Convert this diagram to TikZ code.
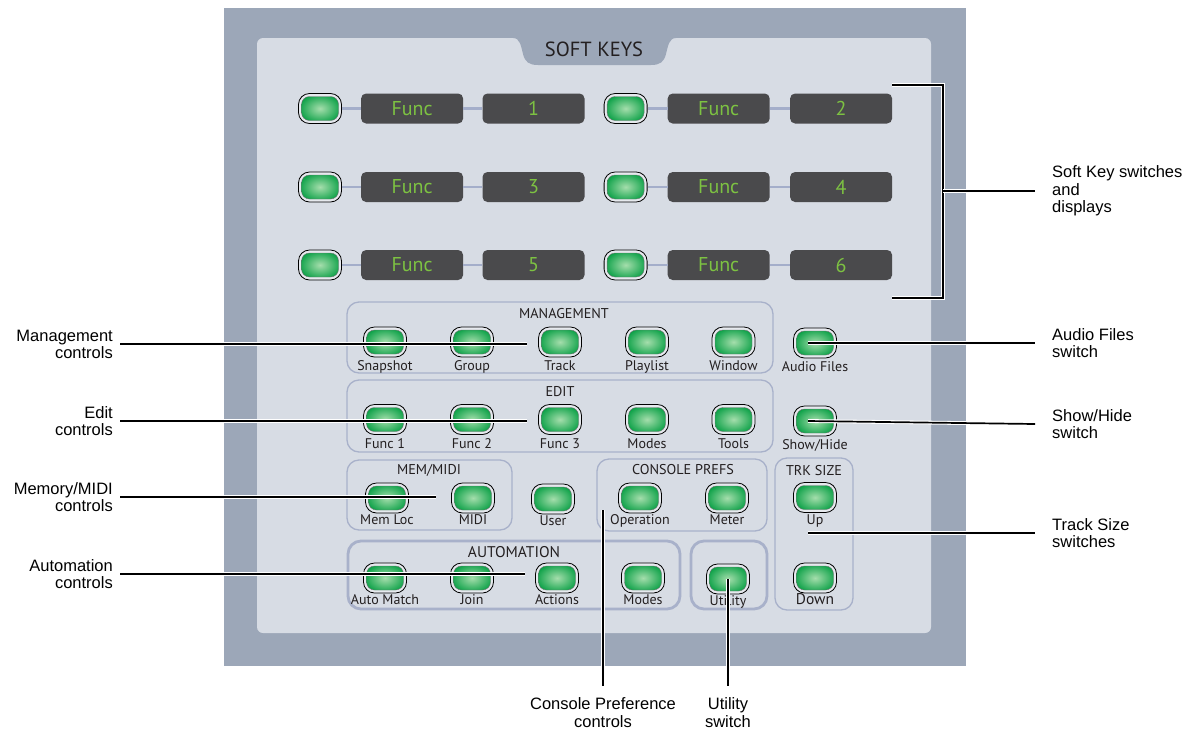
\documentclass[tikz,border=0pt]{standalone}
\usepackage{fontspec}
\usetikzlibrary{positioning, calc}
\newfontfamily\panelfont{PT Sans}
\newfontfamily\notefont{Liberation Sans}
\definecolor{framegray}{RGB}{156,167,184}
\definecolor{panelgray}{RGB}{215,220,228}
\definecolor{dispgray}{RGB}{74,74,76}
\definecolor{funcgreen}{RGB}{125,194,66}
\definecolor{linkblue}{RGB}{164,174,202}
\definecolor{grpline}{RGB}{168,177,202}
\definecolor{ringfill}{RGB}{230,233,238}
\definecolor{btnlight}{RGB}{165,222,172}
\definecolor{btndark}{RGB}{10,160,70}
\definecolor{labeltxt}{RGB}{35,31,32}

\begin{document}
\begin{tikzpicture}[x=1pt, y=-1pt,
      btn/.style={draw=black, line width=0.8pt, fill=ringfill, rounded corners=11pt,
                  minimum width=43pt, minimum height=30pt, inner sep=0pt,
                  path picture={\shadedraw[inner color=btnlight, outer color=btndark, draw=black!55,
                    line width=0.4pt, rounded corners=8pt]
                    ([shift={(3pt,3pt)}]path picture bounding box.south west) rectangle
                    ([shift={(-3pt,-3pt)}]path picture bounding box.north east);}},
      disp/.style={rectangle, fill=dispgray, rounded corners=5pt, minimum width=102pt,
                  minimum height=30pt, inner sep=0pt, text=funcgreen,
                  font=\panelfont\fontsize{20}{20}\selectfont},
      lbl/.style={font=\panelfont\fontsize{14}{14}\selectfont, text=labeltxt, anchor=base,
                  inner sep=0pt, yshift=-13.5pt},
      lowlbl/.style={lbl, yshift=2pt},
      grptitle/.style={font=\panelfont\fontsize{14.2}{14}\selectfont, text=labeltxt, inner sep=0pt},
      grp/.style={draw=grpline, line width=1.3pt, rounded corners=12pt},
      grpthick/.style={draw=grpline, line width=2.8pt, rounded corners=13pt},
      link/.style={draw=linkblue, line width=2.6pt},
      notel/.style={font=\notefont\fontsize{16.5}{17}\selectfont, align=right, anchor=east,
                  inner xsep=7pt, inner ysep=0pt},
      noter/.style={font=\notefont\fontsize{16.5}{17.5}\selectfont, align=left, anchor=west,
                  inner xsep=17pt, inner ysep=0pt},
      noteb/.style={font=\notefont\fontsize{16.5}{17.5}\selectfont, align=center, anchor=north,
                  inner sep=0pt},
      lead/.style={draw=black, line width=1.7pt, preaction={draw=white, line width=3.8pt}}]
    \useasboundingbox (0,0) rectangle (1192,729);
    \fill[white] (0,0) rectangle (1192,729);
    % console frame and soft keys tab
    \fill[framegray] (224,8) rectangle (966,666);
    \fill[panelgray, rounded corners=6pt] (257,38) rectangle (931,633);
    \fill[framegray] (513,38) .. controls (520,38) and (521,46) .. (523,54)
      .. controls (525,62) and (529,65) .. (538,65) -- (651,65)
      .. controls (660,65) and (664,62) .. (666,54)
      .. controls (668,46) and (669,38) .. (676,38) -- cycle;
    \node[grptitle, font=\panelfont\fontsize{20.5}{20}\selectfont] (sktitle) at (594,49.5) {SOFT KEYS};

    % soft key rows
    \node[btn] (swa) at (320,108.5) {};
    \node[disp, right=19pt of swa] (fna) {Func};
    \node[disp, right=19pt of fna] (nma) {1};
    \node[btn, right=19pt of nma] (swb) {};
    \node[disp, right=20pt of swb] (fnb) {Func};
    \node[disp, right=20pt of fnb] (nmb) {2};
    \node[btn] (swc) at (320,187) {};
    \node[disp, right=19pt of swc] (fnc) {Func};
    \node[disp, right=19pt of fnc] (nmc) {3};
    \node[btn, right=19pt of nmc] (swd) {};
    \node[disp, right=20pt of swd] (fnd) {Func};
    \node[disp, right=20pt of fnd] (nmd) {4};
    \node[btn] (swe) at (320,265) {};
    \node[disp, right=19pt of swe] (fne) {Func};
    \node[disp, right=19pt of fne] (nme) {5};
    \node[btn, right=19pt of nme] (swf) {};
    \node[disp, right=20pt of swf] (fnf) {Func};
    \node[disp, right=20pt of fnf] (nmf) {6};
    \draw[link] (swa) -- (fna);  \draw[link] (fna) -- (nma);
    \draw[link] (swb) -- (fnb);  \draw[link] (fnb) -- (nmb);
    \draw[link] (swc) -- (fnc);  \draw[link] (fnc) -- (nmc);
    \draw[link] (swd) -- (fnd);  \draw[link] (fnd) -- (nmd);
    \draw[link] (swe) -- (fne);  \draw[link] (fne) -- (nme);
    \draw[link] (swf) -- (fnf);  \draw[link] (fnf) -- (nmf);

    % groups
    \draw[grp] (347,302) rectangle (773,373);
    \draw[grp] (347,380) rectangle (773,452);
    \draw[grp] (347,460) rectangle (512,530);
    \draw[grp] (597,459) rectangle (767,531);
    \draw[grp] (775,458) rectangle (853,610);
    \draw[grpthick] (348,541) rectangle (680,609);
    \draw[grpthick] (691,541) rectangle (767,609);
    \node[grptitle] (mgmttitle) at (564,313.5) {MANAGEMENT};
    \node[grptitle] (edittitle) at (560,392) {EDIT};
    \node[grptitle] (memtitle) at (429,470) {MEM/MIDI};
    \node[grptitle] (cptitle) at (683,470) {CONSOLE PREFS};
    \node[grptitle] (trktitle) at (814,471) {TRK SIZE};
    \node[grptitle, font=\panelfont\fontsize{15.5}{15}\selectfont] (autotitle) at (514,552) {AUTOMATION};

    % switches
    \node[btn, label={[lbl]below:Snapshot}] (snap) at (385,342) {};
    \node[btn, label={[lbl]below:Group}] (group) at (472,342) {};
    \node[btn, label={[lbl]below:Track}] (track) at (560,342) {};
    \node[btn, label={[lbl]below:Playlist}] (playlist) at (647,342) {};
    \node[btn, label={[lbl]below:Window}] (window) at (733.5,342) {};
    \node[btn, label={[lbl]below:Audio Files}] (audio) at (815,343) {};
    \node[btn, label={[lbl]below:Func 1}] (funca) at (385,419.5) {};
    \node[btn, label={[lbl]below:Func 2}] (funcb) at (472,419.5) {};
    \node[btn, label={[lbl]below:Func 3}] (funcc) at (560,419.5) {};
    \node[btn, label={[lbl]below:Modes}] (emodes) at (647,419.5) {};
    \node[btn, label={[lbl]below:Tools}] (tools) at (733.5,419.5) {};
    \node[btn, label={[lbl]below:Show/Hide}] (showhide) at (815,421) {};
    \node[btn, label={[lowlbl]below:Mem Loc}] (memloc) at (387,498) {};
    \node[btn, label={[lowlbl]below:MIDI}] (midi) at (473,498) {};
    \node[btn, label={[lowlbl]below:User}] (user) at (553,499) {};
    \node[btn, label={[lowlbl]below:Operation}] (operation) at (640,498) {};
    \node[btn, label={[lowlbl]below:Meter}] (meter) at (727,498) {};
    \node[btn, label={[lowlbl]below:Up}] (trkup) at (815,497.5) {};
    \node[btn, label={[lowlbl]below:Auto Match}] (automatch) at (385,578) {};
    \node[btn, label={[lowlbl]below:Join}] (join) at (472,578) {};
    \node[btn, label={[lowlbl]below:Actions}] (actions) at (557,578) {};
    \node[btn, label={[lowlbl]below:Modes}] (amodes) at (643,578) {};
    \node[btn, label={[lowlbl]below:Utility}] (utility) at (728,579) {};
    \node[btn, label={[lowlbl, font=\panelfont\fontsize{15.5}{15}\selectfont]below:Down}] (trkdown) at (815,578) {};

    % callouts
    \node[notel] (mgmtnote) at (120,344) {Management\\controls};
    \node[notel] (editnote) at (120,421) {Edit\\controls};
    \node[notel] (memnote) at (120,497) {Memory/MIDI\\controls};
    \node[notel] (autonote) at (120,574) {Automation\\controls};
    \node[noter] (sknote) at (1035,191) {Soft Key switches\\and\\displays};
    \node[noter] (audionote) at (1035,343) {Audio Files\\switch};
    \node[noter] (shnote) at (1035,424) {Show/Hide\\switch};
    \node[noter] (trknote) at (1035,533) {Track Size\\switches};
    \node[noteb] (cpnote) at (603,697.5) {Console Preference\\controls};
    \node[noteb] (utilnote) at (728,697.5) {Utility\\switch};
    \coordinate (brtop) at (892,85);
    \coordinate (brbot) at (892,298);
    \coordinate (brmid) at (943,191);
    \coordinate (cppt) at (603,510);
    \coordinate (trkpt) at (808,533);

    \draw[lead, shorten >=11pt] (mgmtnote.east) -- (mgmtnote.east -| track.west);
    \draw[lead, shorten >=11pt] (editnote.east) -- (editnote.east -| funcc.west);
    \draw[lead, shorten >=15pt] (memnote.east) -- (memnote.east -| midi.west);
    \draw[lead, shorten >=10pt] (autonote.east) -- (autonote.east -| actions.west);
    \draw[lead] (brtop) -| (brmid) |- (brbot);
    \draw[lead] (brmid) -- (sknote.west);
    \draw[lead] ([xshift=-7pt]audio.center) -- (audionote.west);
    \draw[lead] ([xshift=-7pt]showhide.center) -- (shnote.west);
    \draw[lead] (trkpt) -- (trknote.west);
    \draw[lead, shorten >=12pt] (cppt) -- (cpnote.north);
    \draw[lead, shorten >=12pt] (utility.center) -- (utilnote.north);
  \end{tikzpicture}
\end{document}
